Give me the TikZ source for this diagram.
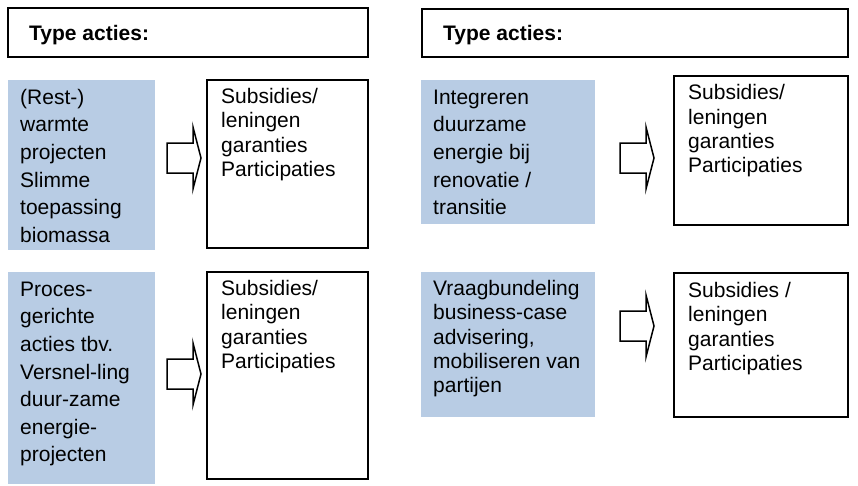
\documentclass[tikz,border=0pt]{standalone}
\usepackage{fontspec}
\setmainfont{Liberation Sans}
\definecolor{boxblue}{RGB}{184,204,228}
\begin{document}
\begin{tikzpicture}[x=1pt,y=-1pt,
  headbox/.style={draw=black,line width=1.6pt,fill=white,inner sep=0pt,outer sep=0pt,anchor=north west},
  bluebox/.style={fill=boxblue,draw=none,inner sep=0pt,outer sep=0pt,anchor=north west},
  whitebox/.style={draw=black,line width=1.8pt,fill=white,inner sep=0pt,outer sep=0pt,anchor=north west},
  headtext/.style={font=\fontsize{21}{25}\selectfont\bfseries,anchor=base west,inner sep=0pt},
  widetext/.style={font=\fontsize{21}{27.6}\selectfont,align=left,anchor=north west,inner sep=0pt},
  tighttext/.style={font=\fontsize{21}{24.4}\selectfont,align=left,anchor=north west,inner sep=0pt},
  arrowline/.style={draw=black,line width=1.5pt,fill=white,line join=miter},
  blockarrow/.pic={\draw[arrowline] (0,-15) -- (26,-15) -- (26,-31) -- (34,0) -- (26,31) -- (26,15) -- (0,15) -- cycle;}
]
\useasboundingbox (0,0) rectangle (858,485);

% header boxes
\node[headbox,minimum width=360,minimum height=49] (h1) at (8,8) {};
\node[headtext] (h1t) at (29,40) {Type acties:};
\node[headbox,minimum width=426,minimum height=48] (h2) at (422,9) {};
\node[headtext] (h2t) at (443,40.5) {Type acties:};

% blue boxes
\node[bluebox,minimum width=147,minimum height=170] (b1) at (8,80) {};
\node[bluebox,minimum width=174,minimum height=144] (b2) at (421,80) {};
\node[bluebox,minimum width=147,minimum height=212] (b3) at (8,272) {};
\node[bluebox,minimum width=174,minimum height=145] (b4) at (421,272) {};

% white boxes
\node[whitebox,minimum width=161,minimum height=168] (w1) at (207,80) {};
\node[whitebox,minimum width=174,minimum height=149] (w2) at (674,76) {};
\node[whitebox,minimum width=161,minimum height=207] (w3) at (207,272) {};
\node[whitebox,minimum width=174,minimum height=144] (w4) at (674,273) {};

% texts
\node[widetext] (b1t) at (20,87) {\rule{0pt}{17pt}(Rest-)\\warmte\\projecten\\Slimme\\toepassing\\biomassa};
\node[tighttext] (w1t) at (221,86) {\rule{0pt}{17pt}Subsidies/\\leningen\\garanties\\Participaties};
\node[widetext] (b2t) at (433,87) {\rule{0pt}{17pt}Integreren\\duurzame\\energie bij\\renovatie /\\transitie};
\node[tighttext] (w2t) at (688,82.5) {\rule{0pt}{17pt}Subsidies/\\leningen\\garanties\\Participaties};
\node[widetext] (b3t) at (20,279) {\rule{0pt}{17pt}Proces-\\gerichte\\acties tbv.\\Versnel-ling\\duur-zame\\energie-\\projecten};
\node[tighttext] (w3t) at (221,278) {\rule{0pt}{17pt}Subsidies/\\leningen\\garanties\\Participaties};
\node[tighttext] (b4t) at (433,278) {\rule{0pt}{17pt}Vraagbundeling\\business-case\\advisering,\\mobiliseren van\\partijen};
\node[tighttext] (w4t) at (688,280) {\rule{0pt}{17pt}Subsidies /\\leningen\\garanties\\Participaties};

% block arrows
\pic at (167,158) {blockarrow};
\pic at (620,158) {blockarrow};
\pic at (167,374) {blockarrow};
\pic at (620,326) {blockarrow};
\end{tikzpicture}
\end{document}
